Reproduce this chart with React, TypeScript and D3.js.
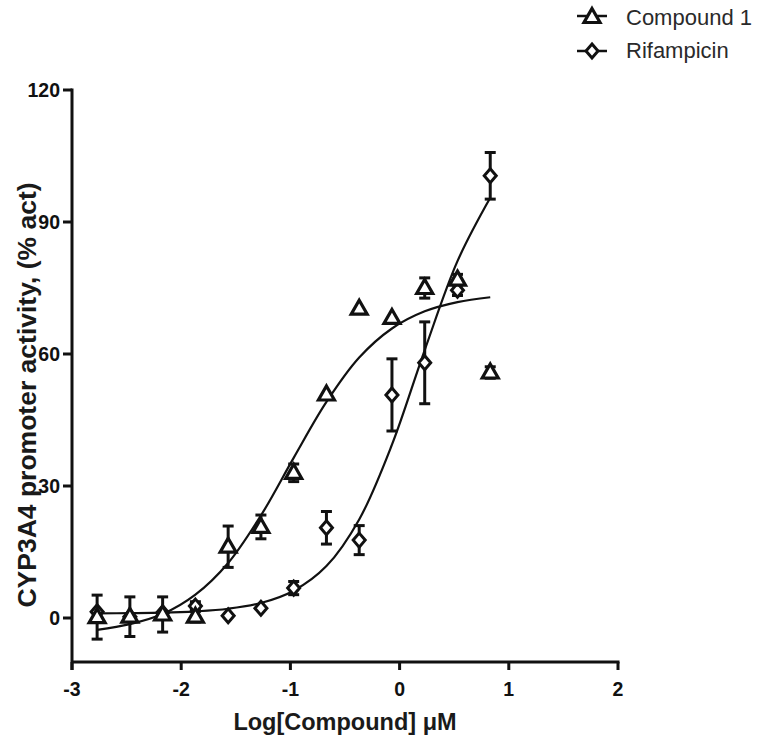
import React from "react";
import * as d3 from "d3";

const doses = [-2.77, -2.47, -2.17, -1.87, -1.57, -1.27, -0.97, -0.67, -0.37, -0.07, 0.23, 0.53, 0.83];

const compound1Mean = [0.2, 0.3, 0.8, 0.3, 16.2, 20.7, 33, 50.8, 70.3, 68.2, 75, 76.9, 55.8];
const compound1Err = [5, 4.5, 4, 1.2, 4.7, 2.7, 2, 0.5, 0.5, 0.5, 2.3, 1.2, 1.3];

const rifampicinMean = [1.4, 0.3, 1.2, 2.7, 0.5, 2.2, 6.8, 20.5, 17.7, 50.7, 58, 74.5, 100.5];
const rifampicinErr = [0.8, 0.5, 0.8, 1.0, 0.3, 0.5, 1.5, 3.7, 3.3, 8.2, 9.3, 1.2, 5.3];

const curveX = [-2.77, -2.47, -2.17, -1.87, -1.57, -1.27, -0.97, -0.67, -0.37, -0.07, 0.23, 0.53, 0.83];
const compound1Curve = [-2.7, -1.4, 0.9, 5.3, 12.5, 23.3, 36.4, 49.1, 59.2, 65.8, 69.7, 71.8, 72.9];
const rifampicinCurve = [1.05, 1.1, 1.2, 1.5, 2.1, 3.4, 6.2, 11.8, 22.4, 39.4, 60.9, 81.1, 95.5];

const xTicks = [-3, -2, -1, 0, 1, 2];
const yTicks = [0, 30, 60, 90, 120];

const seriesNames = ["Compound 1", "Rifampicin"];

const FONT = "'Liberation Sans', Arial, Helvetica, sans-serif";
const INK = "#111";

function triPath(cx: number, cy: number) {
  return `M${cx},${cy - 8.5}L${cx + 8},${cy + 5.5}L${cx - 8},${cy + 5.5}Z`;
}
function diaPath(cx: number, cy: number) {
  return `M${cx},${cy - 7}L${cx + 6},${cy}L${cx},${cy + 7}L${cx - 6},${cy}Z`;
}

export default function App() {
  const W = 762;
  const H = 744;
  const x = d3.scaleLinear().domain([-3, 2]).range([72, 618]);
  const y = d3.scaleLinear().domain([-10, 120]).range([662, 90]);

  const line = d3
    .line<[number, number]>()
    .x((d) => x(d[0]))
    .y((d) => y(d[1]))
    .curve(d3.curveCatmullRom.alpha(0.5));

  const c1Line = line(curveX.map((v, i) => [v, compound1Curve[i]] as [number, number])) || "";
  const rfLine = line(curveX.map((v, i) => [v, rifampicinCurve[i]] as [number, number])) || "";

  const errBars = (means: number[], errs: number[], key: string) =>
    doses.map((dv, i) => {
      const cx = x(dv);
      const y1 = y(means[i] + errs[i]);
      const y2 = y(means[i] - errs[i]);
      if (Math.abs(y2 - y1) < 8) return null;
      return (
        <g key={key + i} stroke={INK} strokeWidth={3}>
          <line x1={cx} x2={cx} y1={y1} y2={y2} />
          <line x1={cx - 5.5} x2={cx + 5.5} y1={y1} y2={y1} />
          <line x1={cx - 5.5} x2={cx + 5.5} y1={y2} y2={y2} />
        </g>
      );
    });

  return (
    <svg
      width={W}
      height={H}
      style={{ position: "absolute", left: 0, top: 0, background: "#fff" }}
      fontFamily={FONT}
    >
      <rect width={W} height={H} fill="#fff" />

      {/* axes */}
      <g stroke={INK} strokeWidth={3} fill="none">
        <line x1={x(-3)} x2={x(-3)} y1={y(120) - 1.5} y2={y(-10) + 8} />
        <line x1={x(-3)} x2={x(2) + 1.5} y1={y(-10)} y2={y(-10)} />
        {yTicks.map((t) => (
          <line key={"yt" + t} x1={x(-3) - 9} x2={x(-3)} y1={y(t)} y2={y(t)} />
        ))}
        {xTicks.map((t) => (
          <line key={"xt" + t} x1={x(t)} x2={x(t)} y1={y(-10)} y2={y(-10) + 8} />
        ))}
      </g>
      {yTicks.map((t) => (
        <text
          key={"yl" + t}
          x={x(-3) - 12}
          y={y(t)}
          dy="0.36em"
          textAnchor="end"
          fontSize={19.5}
          fontWeight="bold"
          fill={INK}
        >
          {t}
        </text>
      ))}
      {xTicks.map((t) => (
        <text
          key={"xl" + t}
          x={x(t)}
          y={696}
          textAnchor="middle"
          fontSize={19.5}
          fontWeight="bold"
          fill={INK}
        >
          {t}
        </text>
      ))}
      <text x={345} y={730} textAnchor="middle" fontSize={23.5} fontWeight="bold" fill="#1a1a1a">
        Log[Compound] μM
      </text>
      <text
        transform={`translate(36,${395}) rotate(-90)`}
        textAnchor="middle"
        fontSize={26.5}
        fontWeight="bold"
        fill="#1a1a1a"
      >
        CYP3A4 promoter activity, (% act)
      </text>

      {/* fitted curves */}
      <path d={c1Line} fill="none" stroke={INK} strokeWidth={2.2} />
      <path d={rfLine} fill="none" stroke={INK} strokeWidth={2.2} />

      {/* error bars */}
      {errBars(compound1Mean, compound1Err, "c")}
      {errBars(rifampicinMean, rifampicinErr, "r")}

      {/* markers */}
      {doses.map((dv, i) => (
        <path
          key={"rm" + i}
          d={diaPath(x(dv), y(rifampicinMean[i]))}
          fill="#fff"
          stroke={INK}
          strokeWidth={3}
        />
      ))}
      {doses.map((dv, i) => (
        <path
          key={"cm" + i}
          d={triPath(x(dv), y(compound1Mean[i]))}
          fill="#fff"
          stroke={INK}
          strokeWidth={3.2}
        />
      ))}

      {/* legend */}
      <g>
        <line x1={577} x2={607} y1={16} y2={16} stroke={INK} strokeWidth={2.5} />
        <path d={triPath(592, 17)} fill="#fff" stroke={INK} strokeWidth={3.2} />
        <text x={626} y={25} fontSize={22} fill="#2a2a2a">
          {seriesNames[0]}
        </text>
        <line x1={577} x2={607} y1={51} y2={51} stroke={INK} strokeWidth={2.5} />
        <path d={diaPath(592, 51)} fill="#fff" stroke={INK} strokeWidth={3} />
        <text x={626} y={58} fontSize={22} fill="#2a2a2a">
          {seriesNames[1]}
        </text>
      </g>
    </svg>
  );
}
